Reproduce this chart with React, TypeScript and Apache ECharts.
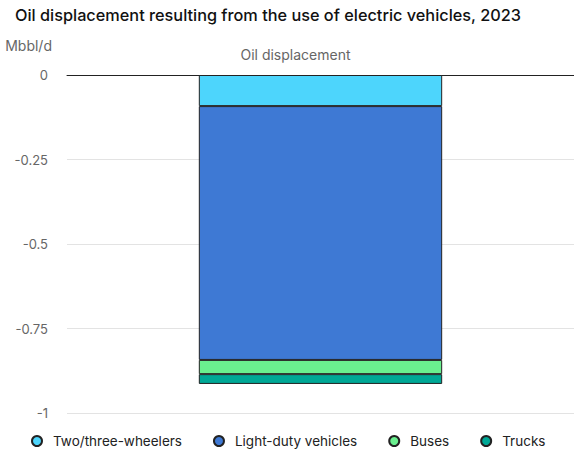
import React, { useEffect, useRef } from "react";
import * as echarts from "echarts";

const categories = ["Oil displacement"];
const seriesNames = ["Two/three-wheelers", "Light-duty vehicles", "Buses", "Trucks"];
const twoThree = [-0.092];
const lightDuty = [-0.751];
const buses = [-0.042];
const trucks = [-0.029];
const yTicks = [0, -0.25, -0.5, -0.75, -1];
const colors = ["#4dd5fc", "#3e79d4", "#6af08f", "#00a896"];

export default function App() {
  const ref = useRef<HTMLDivElement>(null);
  useEffect(() => {
    document.body.style.margin = "0";
    const chart = echarts.init(ref.current!, null, { renderer: "svg" });
    const values = [twoThree, lightDuty, buses, trucks];
    chart.setOption({
      animation: false,
      textStyle: { fontFamily: "Inter" },
      title: {
        text: "Oil displacement resulting from the use of electric vehicles, 2023",
        left: 10,
        top: 2,
        textStyle: { fontSize: 16.3, fontWeight: 500, color: "#111", fontFamily: "Inter" },
      },
      legend: {
        bottom: 15,
        left: 26,
        icon: "circle",
        itemWidth: 10,
        itemHeight: 10,
        itemGap: 31,
        textStyle: { fontSize: 13.5, color: "#222", fontFamily: "Inter", padding: [0, 0, 0, 6] },
        data: seriesNames,
      },
      grid: { left: 67, right: 0, top: 75, bottom: 55, containLabel: false },
      xAxis: {
        type: "category",
        position: "top",
        data: categories,
        axisLine: { show: true, lineStyle: { color: "#222", width: 1 } },
        axisTick: { show: false },
        axisLabel: { color: "#666", fontSize: 14, margin: 14, padding: [0, 50, 0, 0] },
      },
      yAxis: {
        type: "value",
        min: -1,
        max: 0,
        interval: 0.25,
        name: "Mbbl/d",
        nameLocation: "end",
        nameGap: 23,
        nameTextStyle: { color: "#666", fontSize: 14, align: "right", padding: [0, 15, 0, 0] },
        axisLine: { show: false },
        axisTick: { show: false },
        axisLabel: {
          color: "#666",
          fontSize: 13,
          margin: 19,
          formatter: (v: number) => (yTicks.includes(v) ? String(v) : ""),
        },
        splitLine: { lineStyle: { color: "#e3e3e3" } },
      },
      series: seriesNames.map((name, i) => ({
        name,
        type: "bar",
        stack: "total",
        data: values[i],
        barWidth: "48%",
        itemStyle: { color: colors[i], borderColor: "#222", borderWidth: 1 },
      })),
    });
    return () => chart.dispose();
  }, []);
  return <div ref={ref} style={{ width: 574, height: 468 }} />;
}
